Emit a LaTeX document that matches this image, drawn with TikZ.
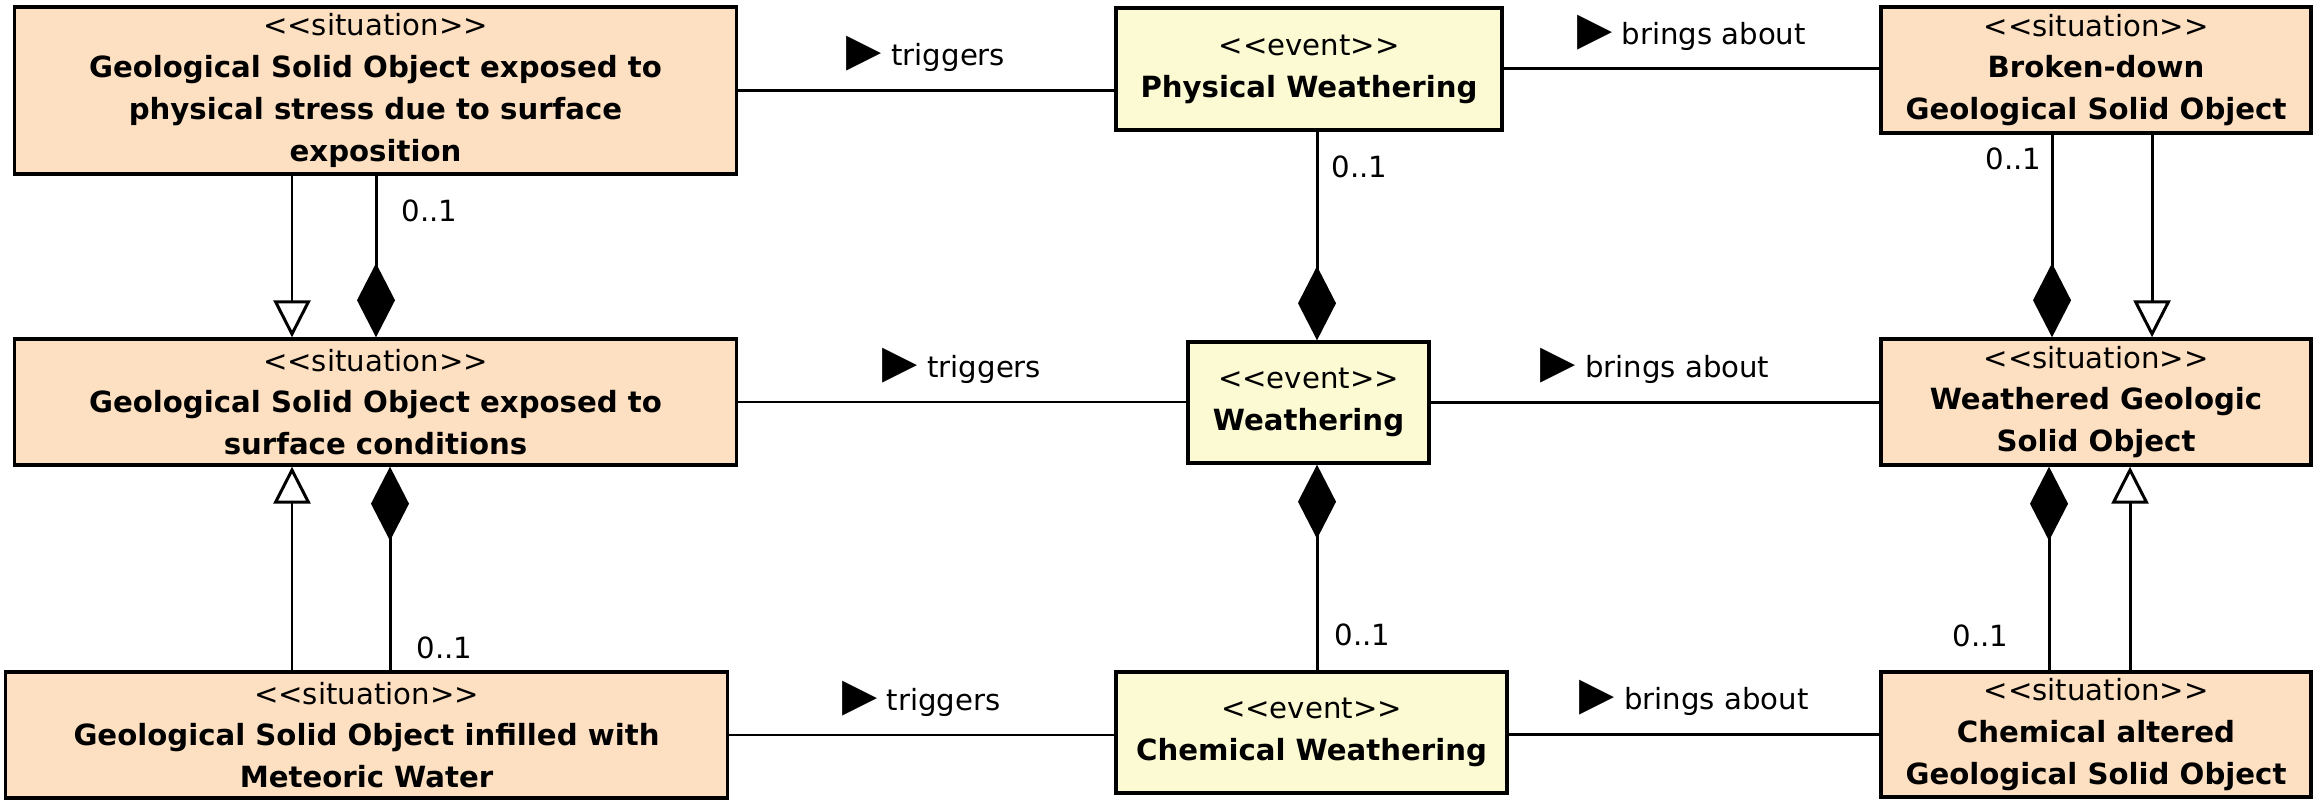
\documentclass[tikz,border=0pt]{standalone}
\usepackage{fontspec}
\newfontfamily\umlfont{DejaVu Sans}
\usetikzlibrary{arrows.meta}
\definecolor{sitfill}{HTML}{FDE0C1}
\definecolor{evtfill}{HTML}{FBFAD3}
\newcommand{\rolemark}{{\fontsize{13pt}{13pt}\selectfont ▶}}
\tikzset{
  sitbox/.style={draw, line width=0.95pt, fill=sitfill, align=center, inner sep=0pt},
  evtbox/.style={draw, line width=0.95pt, fill=evtfill, align=center, inner sep=0pt},
  link/.style={line width=0.85pt},
  comp/.style={link, -{Diamond[length=0.74cm, width=0.38cm]}},
  gen/.style={link, -{Triangle[open, fill=white, length=0.37cm, width=0.37cm]}},
  assoc/.style={midway, above=0.17cm, inner sep=0pt},
  mult/.style={inner sep=0pt}
}

\begin{document}
\begin{tikzpicture}[x=0.01cm, y=-0.01cm, every node/.style={font=\umlfont\fontsize{8.3pt}{11.9pt}\selectfont}]
  \useasboundingbox (0,0) rectangle (2322,810);

  % situations (left and right columns)
  \node[sitbox, minimum width=7.21cm, minimum height=1.67cm] (A) at (375.5,90.5)
    {<<situation>>\\ \textbf{Geological Solid Object exposed to}\\ \textbf{physical stress due to surface}\\ \textbf{exposition}};
  \node[sitbox, minimum width=7.21cm, minimum height=1.26cm] (B) at (375.5,402)
    {<<situation>>\\ \textbf{Geological Solid Object exposed to}\\ \textbf{surface conditions}};
  \node[sitbox, minimum width=7.21cm, minimum height=1.26cm] (C) at (366.5,735)
    {<<situation>>\\ \textbf{Geological Solid Object infilled with}\\ \textbf{Meteoric Water}};
  \node[sitbox, minimum width=4.30cm, minimum height=1.26cm] (BD) at (2096,70)
    {<<situation>>\\ \textbf{Broken-down}\\ \textbf{Geological Solid Object}};
  \node[sitbox, minimum width=4.30cm, minimum height=1.26cm] (WG) at (2096,402)
    {<<situation>>\\ \textbf{Weathered Geologic}\\ \textbf{Solid Object}};
  \node[sitbox, minimum width=4.30cm, minimum height=1.25cm] (CA) at (2096,734.5)
    {<<situation>>\\ \textbf{Chemical altered}\\ \textbf{Geological Solid Object}};

  % events
  \node[evtbox, minimum width=3.86cm, minimum height=1.22cm] (PW) at (1309,69)
    {<<event>>\\ \textbf{Physical Weathering}};
  \node[evtbox, minimum width=2.41cm, minimum height=1.21cm] (W) at (1308.5,402.5)
    {<<event>>\\ \textbf{Weathering}};
  \node[evtbox, minimum width=3.91cm, minimum height=1.21cm] (CW) at (1311.5,732.5)
    {<<event>>\\ \textbf{Chemical Weathering}};

  \coordinate (gl) at (292,0);
  \coordinate (cl1) at (376,0);
  \coordinate (cl2) at (390,0);
  \coordinate (cm) at (1317,0);
  \coordinate (cr1) at (2052,0);
  \coordinate (gr1) at (2152,0);
  \coordinate (cr2) at (2049,0);
  \coordinate (gr2) at (2130,0);

  % associations
  \draw[link] (A.east) -- node[assoc] {\rolemark\ triggers} (A.east -| PW.west);
  \draw[link] (PW.east) -- node[assoc] {\rolemark\ brings about} (PW.east -| BD.west);
  \draw[link] (B.east) -- node[assoc] {\rolemark\ triggers} (B.east -| W.west);
  \draw[link] (W.east) -- node[assoc] {\rolemark\ brings about} (W.east -| WG.west);
  \draw[link] (C.east) -- node[assoc] {\rolemark\ triggers} (C.east -| CW.west);
  \draw[link] (CA.west -| CW.east) -- node[assoc] {\rolemark\ brings about} (CA.west);

  % compositions and generalizations
  \draw[gen] (A.south -| gl) -- (B.north -| gl);
  \draw[comp] (A.south -| cl1) -- node[mult, pos=0.22, right=0.24cm] {0..1} (B.north -| cl1);
  \draw[gen] (C.north -| gl) -- (B.south -| gl);
  \draw[comp] (C.north -| cl2) -- node[mult, pos=0.11, right=0.25cm] {0..1} (B.south -| cl2);
  \draw[comp] (PW.south -| cm) -- node[mult, pos=0.17, right=0.13cm] {0..1} (W.north -| cm);
  \draw[comp] (CW.north -| cm) -- node[mult, pos=0.17, right=0.16cm] {0..1} (W.south -| cm);
  \draw[comp] (BD.south -| cr1) -- node[mult, pos=0.12, left=0.09cm] {0..1} (WG.north -| cr1);
  \draw[gen] (BD.south -| gr1) -- (WG.north -| gr1);
  \draw[comp] (CA.north -| cr2) -- node[mult, pos=0.17, left=0.39cm] {0..1} (WG.south -| cr2);
  \draw[gen] (CA.north -| gr2) -- (WG.south -| gr2);
\end{tikzpicture}
\end{document}
